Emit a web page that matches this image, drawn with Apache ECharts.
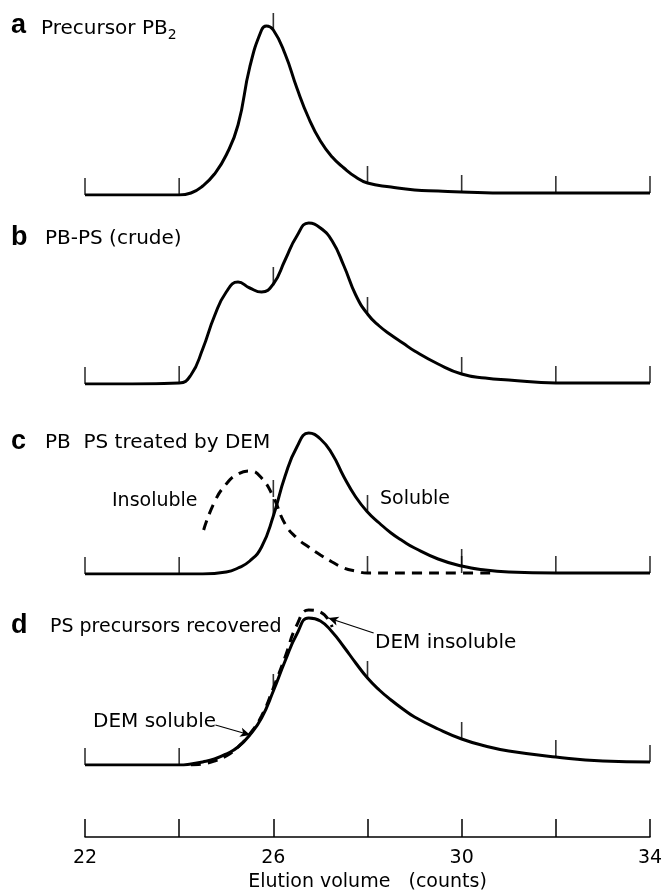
<!DOCTYPE html>
<html>
<head>
<meta charset="utf-8">
<script src="https://cdn.jsdelivr.net/npm/echarts@6/dist/echarts.min.js"></script>
<style>
html,body{margin:0;padding:0;background:#fff;}
#chart{width:668px;height:893px;}
</style>
</head>
<body>
<div id="chart"></div>
<script>
// Elution volume (counts) and relative detector response
const xA = [22, 23, 24, 24.25, 24.5, 24.75, 25, 25.25, 25.5, 25.75, 25.85, 26, 26.25, 26.5, 26.75, 27, 27.25, 27.5, 27.75, 28, 28.5, 29, 29.5, 30, 31, 32, 33, 34];
const yA = [0, 0, 0, 2, 9, 21, 40, 70, 128, 165, 169, 165, 141, 107, 77, 54, 38, 27, 18, 12, 8, 5, 4, 3, 2, 2, 2, 2];

const xB = [22, 23, 24, 24.25, 24.5, 24.75, 25, 25.25, 25.5, 25.75, 26, 26.25, 26.5, 26.75, 27, 27.25, 27.5, 27.75, 28, 28.25, 28.5, 28.75, 29, 29.5, 30, 30.5, 31, 32, 33, 34];
const yB = [0, 0, 1, 9, 35, 68, 92, 102, 96, 92, 100, 124, 148, 161, 156, 143, 118, 89, 70, 58, 49, 41, 33, 20, 10, 6, 4, 1, 1, 1];

const xCsol = [22, 23, 24, 24.5, 25, 25.25, 25.5, 25.75, 26, 26.25, 26.5, 26.75, 27, 27.25, 27.5, 27.75, 28, 28.25, 28.5, 28.75, 29, 29.5, 30, 30.5, 31, 32, 33, 34];
const yCsol = [0, 0, 0, 0, 2, 6, 13, 27, 58, 98, 127, 141, 135, 120, 97, 77, 62, 51, 41, 33, 26, 15, 8, 4, 2, 1, 1, 1];
const xCins = [24.52, 24.75, 25, 25.25, 25.5, 25.75, 26, 26.25, 26.5, 26.75, 27, 27.25, 27.5, 27.75, 28, 28.5, 29, 30, 30.7];
const yCins = [44, 72, 90, 100, 103, 96, 77, 50, 36, 27, 19, 12, 6, 3, 1, 1, 1, 1, 1];

const xDsol = [22, 23, 24, 24.25, 24.5, 24.75, 25, 25.25, 25.5, 25.75, 26, 26.25, 26.5, 26.75, 27, 27.25, 27.5, 27.75, 28, 28.25, 28.5, 28.75, 29, 29.5, 30, 30.5, 31, 32, 33, 34];
const yDsol = [0, 0, 0, 1, 3, 6, 11, 18, 30, 47, 74, 104, 131, 147, 144, 133, 118, 102, 87, 75, 65, 56, 48, 36, 26, 19, 14, 8, 4, 3];
const xDins = [24.25, 24.5, 24.75, 25, 25.25, 25.5, 25.75, 26, 26.25, 26.5, 26.75, 27, 27.25];
const yDins = [0, 1, 4, 9, 18, 31, 49, 77, 108, 140, 155, 153, 138];

const axisTicks = [22, 24, 26, 28, 30, 32, 34];
const axisLabels = ['22', '26', '30', '34'];

const panelLetters = ['a', 'b', 'c', 'd'];
const panelTitles = ['{m|Precursor PB}{s|2}', 'PB-PS (crude)', 'PB  PS treated by DEM', 'PS precursors recovered'];
const axisTitle = 'Elution volume   (counts)';

const FONT = 'DejaVu Sans';
const zip = (xs, ys) => xs.map((x, i) => [x, ys[i]]);
const onTicks = (xs, ys) => zip(xs, ys).filter(p => axisTicks.indexOf(p[0]) >= 0);

const L = 85, R = 18;
const panelTops = [15, 204, 394, 585];
const grids = panelTops.map(t => ({left: L, right: R, top: t, height: 180}));
grids.push({left: L, right: R, top: 800, height: 41});

const xAxes = grids.map((g, i) => ({
  type: 'value', gridIndex: i, min: 22, max: 34, interval: 2,
  show: i === 4,
  axisLine: {show: true, lineStyle: {color: '#000', width: 1.5}},
  axisTick: {show: true, inside: true, length: 18, lineStyle: {color: '#000', width: 1.5}},
  axisLabel: {show: true, color: '#000', fontFamily: FONT, fontSize: 19, margin: 12,
    formatter: v => axisLabels.indexOf(String(v)) >= 0 ? String(v) : ''},
  splitLine: {show: false},
  name: i === 4 ? axisTitle : '',
  nameLocation: 'middle', nameGap: 36,
  nameTextStyle: {color: '#000', fontFamily: FONT, fontSize: 19}
}));
const yAxes = grids.map((g, i) => ({type: 'value', gridIndex: i, min: 0, max: i === 4 ? 1 : 180, show: false}));

const SMOOTH = 0.5;
const solid = (idx, xs, ys, extra) => Object.assign({
  type: 'line', xAxisIndex: idx, yAxisIndex: idx, data: zip(xs, ys),
  smooth: SMOOTH, showSymbol: false, symbol: 'none',
  lineStyle: {color: '#000', width: 3}, z: 3, animation: false
}, extra || {});
const dashed = (idx, xs, ys) => ({
  type: 'line', xAxisIndex: idx, yAxisIndex: idx, data: zip(xs, ys),
  smooth: SMOOTH, showSymbol: false, symbol: 'none',
  lineStyle: {color: '#000', width: 3, type: [10, 7]}, z: 4, animation: false
});
const ticks = (idx, pts) => ({
  type: 'scatter', xAxisIndex: idx, yAxisIndex: idx, data: pts,
  symbol: 'rect', symbolSize: [1.6, 17], symbolOffset: [0, -8.5],
  itemStyle: {color: '#000'}, z: 5, animation: false, silent: true
});

const series = [
  solid(0, xA, yA), ticks(0, onTicks(xA, yA)),
  solid(1, xB, yB), ticks(1, onTicks(xB, yB)),
  solid(2, xCsol, yCsol), dashed(2, xCins, yCins),
  ticks(2, onTicks(xCsol, yCsol)), ticks(2, onTicks(xCins, yCins)),
  solid(3, xDsol, yDsol, {
    markLine: {
      silent: true, animation: false, symbol: ['none', 'arrow'], symbolSize: [7, 10],
      label: {show: false}, lineStyle: {color: '#000', width: 1.2, type: 'solid'},
      data: [
        [{coord: [24.77, 40]}, {coord: [25.51, 30]}],
        [{coord: [28.13, 132]}, {coord: [27.17, 147]}]
      ]
    }
  }),
  dashed(3, xDins, yDins),
  ticks(3, onTicks(xDsol, yDsol))
];

const textStyle = (txt, size, bold, fam) => ({text: txt, fill: '#000', font: (bold ? 'bold ' : '') + size + 'px "' + (fam || FONT) + '"', textVerticalAlign: 'middle'});
const letterY = [26, 238, 442, 626];
const titleY = [27, 239, 443, 627];
const titleX = [41, 45, 45, 50];
const titleSize = [20, 20, 20, 19];
const graphic = [];
panelLetters.forEach((l, i) => {
  graphic.push({type: 'text', left: 11, top: letterY[i] - 14, style: Object.assign(textStyle(l, 27, true, 'Liberation Sans'), {textVerticalAlign: 'top'})});
  const st = textStyle(panelTitles[i], titleSize[i], false);
  if (i === 0) {
    st.rich = {
      m: {fontFamily: FONT, fontSize: 20, lineHeight: 26, fill: '#000', verticalAlign: 'middle'},
      s: {fontFamily: FONT, fontSize: 14, lineHeight: 14, fill: '#000', verticalAlign: 'bottom'}
    };
  }
  graphic.push({type: 'text', x: titleX[i], y: titleY[i] + (i === 0 ? 2 : 0), style: st});
});
graphic.push({type: 'text', x: 112, y: 501, style: textStyle('Insoluble', 19, false)});
graphic.push({type: 'text', x: 380, y: 499, style: textStyle('Soluble', 19, false)});
graphic.push({type: 'text', x: 93, y: 722, style: textStyle('DEM soluble', 20, false)});
graphic.push({type: 'text', x: 375, y: 643, style: textStyle('DEM insoluble', 20, false)});

const chart = echarts.init(document.getElementById('chart'), null, {renderer: 'canvas'});
chart.setOption({
  backgroundColor: '#fff',
  animation: false,
  grid: grids, xAxis: xAxes, yAxis: yAxes, series: series, graphic: graphic
});
</script>
</body>
</html>
